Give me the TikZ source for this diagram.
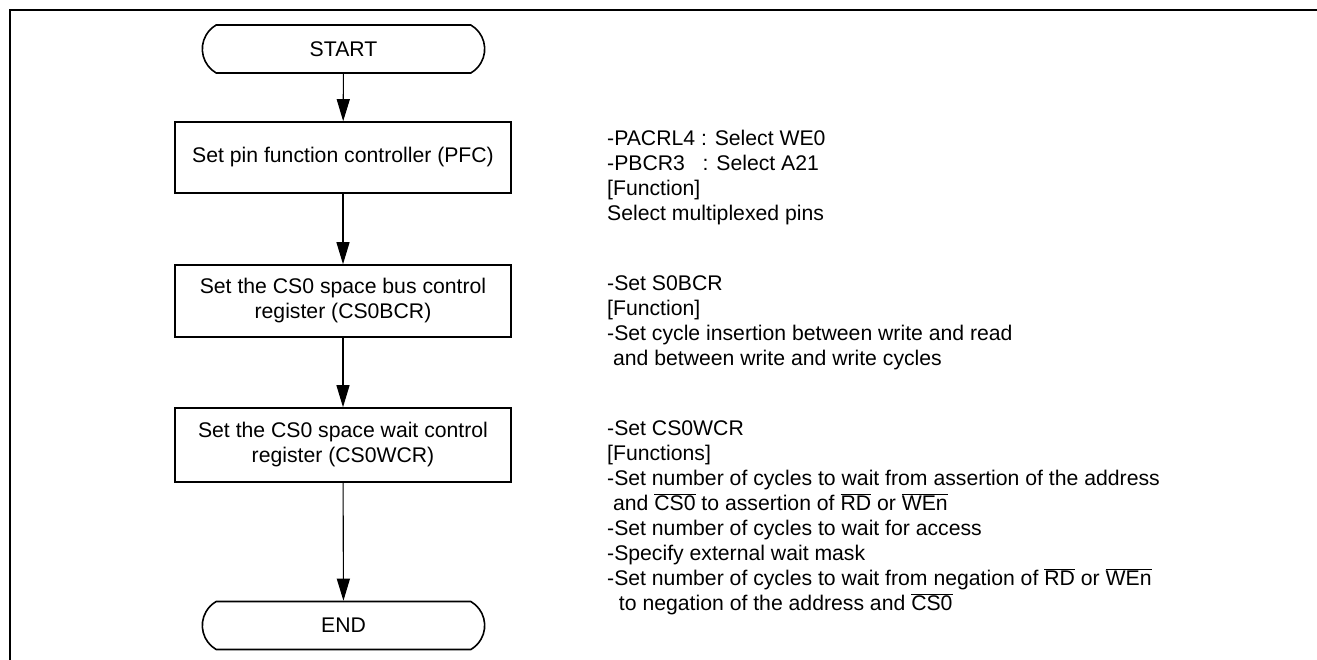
\documentclass[tikz,border=0pt]{standalone}
\usepackage{fontspec}
\setmainfont{Liberation Sans}
\usetikzlibrary{arrows.meta,shapes.misc}
\newcommand{\negsig}[1]{$\overline{\mbox{#1}}$}

\begin{document}
\begin{tikzpicture}[x=1pt, y=-1pt,
    every node/.style={font=\fontsize{21.2}{25}\selectfont},
    stepbox/.style={draw, line width=1.6pt, minimum width=336pt, align=center, inner sep=0pt},
    term/.style={draw, rounded rectangle, rounded rectangle arc length=120, line width=1.6pt, minimum width=289pt, minimum height=48pt},
    note/.style={anchor=base west, align=left, inner sep=0pt},
    flow/.style={line width=1.1pt, -{Triangle[length=22pt, width=13pt]}}]
        \useasboundingbox (0,0) rectangle (1317,660);
        % Cornice
        \draw[line width=2.2pt] (10,660) -- (10,10) -- (1317,10);

        % Passi
        \node (start) at (343.5,49) [term] {START};
        \node (pfc) at (343,157.5) [stepbox, minimum height=71pt] {Set pin function controller (PFC)};
        \node (bcr) at (343,301) [stepbox, minimum height=72pt] {Set the CS0 space bus control\\register (CS0BCR)};
        \node (wcr) at (343,445) [stepbox, minimum height=74pt] {Set the CS0 space wait control\\register (CS0WCR)};
        \node (end) at (343.5,625.5) [term] {END};

        % Note (ancorate all'ultima riga)
        \node (n1) at (607,220.5) [note] {-PACRL4 : Select WE0\\-PBCR3\hphantom{L} : Select A21\\{[Function]}\\Select multiplexed pins};
        \node (n2) at (607,365.5) [note] {-Set S0BCR\\{[Function]}\\-Set cycle insertion between write and read\\~and between write and write cycles};
        \node (n3) at (607,610.5) [note] {-Set CS0WCR\\{[Functions]}\\-Set number of cycles to wait from assertion of the address\\~and \negsig{CS0} to assertion of \negsig{RD} or \negsig{WEn}\\-Set number of cycles to wait for access\\-Specify external wait mask\\-Set number of cycles to wait from negation of \negsig{RD} or \negsig{WEn}\\~~to negation of the address and \negsig{CS0}};

        % Collegamenti
        \draw[flow] (start) -- (pfc);
        \draw[flow] (pfc) -- (bcr);
        \draw[flow] (bcr) -- (wcr);
        \draw[flow] (wcr) -- (end);
\end{tikzpicture}
\end{document}
